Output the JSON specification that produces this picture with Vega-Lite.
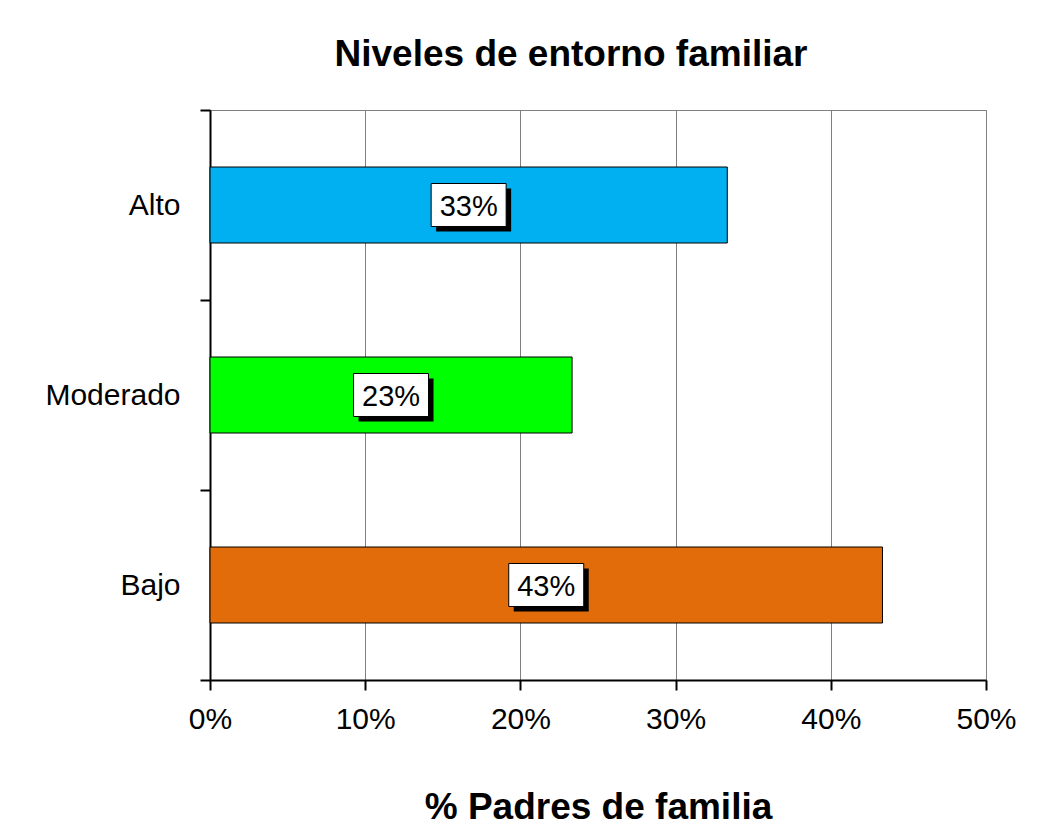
{
  "$schema": "https://vega.github.io/schema/vega-lite/v6.json",
  "autosize": "none",
  "width": 776,
  "height": 570,
  "padding": {"left": 210, "top": 110, "right": 56, "bottom": 154},
  "background": "white",
  "config": {
    "view": {"stroke": "#808080", "strokeWidth": 1},
    "font": "Liberation Sans"
  },
  "title": {
    "text": "Niveles de entorno familiar",
    "font": "Liberation Sans",
    "fontSize": 37,
    "fontWeight": "bold",
    "color": "black",
    "anchor": "middle",
    "frame": "group",
    "dx": -27,
    "offset": -8,
    "baseline": "alphabetic"
  },
  "data": {
    "values": [
      {"nivel": "Alto", "pct": 0.3333, "label": "33%"},
      {"nivel": "Moderado", "pct": 0.2333, "label": "23%"},
      {"nivel": "Bajo", "pct": 0.4333, "label": "43%"}
    ]
  },
  "transform": [{"calculate": "datum.pct / 2", "as": "mid"}],
  "encoding": {
    "y": {
      "field": "nivel",
      "type": "nominal",
      "sort": ["Alto", "Moderado", "Bajo"],
      "scale": {"paddingInner": 0, "paddingOuter": 0},
      "axis": {
        "title": null,
        "domain": true,
        "domainColor": "black",
        "domainWidth": 2,
        "ticks": true,
        "tickColor": "black",
        "tickWidth": 2,
        "tickSize": 10,
        "tickBand": "extent",
        "labelFont": "Liberation Sans",
        "labelFontSize": 30,
        "labelColor": "black",
        "labelPadding": 20,
        "grid": false
      }
    }
  },
  "layer": [
    {
      "mark": {"type": "bar", "stroke": "black", "strokeWidth": 1, "height": {"band": 0.4}},
      "encoding": {
        "x": {
          "field": "pct",
          "type": "quantitative",
          "scale": {"domain": [0, 0.5], "nice": false},
          "axis": {
            "values": [0, 0.1, 0.2, 0.3, 0.4, 0.5],
            "format": ".0%",
            "title": "% Padres de familia",
            "titleFont": "Liberation Sans",
            "titleFontSize": 37,
            "titleFontWeight": "bold",
            "titleColor": "black",
            "titlePadding": 55,
            "labelFont": "Liberation Sans",
            "labelFontSize": 30,
            "labelColor": "black",
            "labelPadding": 14,
            "labelFlush": false,
            "tickSize": 10,
            "tickColor": "black",
            "tickWidth": 2,
            "domainColor": "black",
            "domainWidth": 2,
            "grid": true,
            "gridColor": "#808080",
            "gridWidth": 1
          }
        },
        "color": {
          "field": "nivel",
          "type": "nominal",
          "scale": {"domain": ["Alto", "Moderado", "Bajo"], "range": ["#00B0F0", "#00FF00", "#E36C0A"]},
          "legend": null
        }
      }
    },
    {
      "mark": {"type": "point", "shape": "M-0.867,-0.44H1.133V0.706H-0.867Z", "filled": true, "fill": "black", "strokeWidth": 0, "size": 5625, "opacity": 1},
      "encoding": {"x": {"field": "mid", "type": "quantitative"}}
    },
    {
      "mark": {"type": "point", "shape": "M-1,-0.573H1V0.573H-1Z", "filled": true, "fill": "white", "stroke": "black", "strokeWidth": 1, "size": 5625, "opacity": 1},
      "encoding": {"x": {"field": "mid", "type": "quantitative"}}
    },
    {
      "mark": {"type": "text", "font": "Liberation Sans", "fontSize": 29, "color": "black", "dy": 2},
      "encoding": {
        "x": {"field": "mid", "type": "quantitative"},
        "text": {"field": "label"}
      }
    }
  ]
}
